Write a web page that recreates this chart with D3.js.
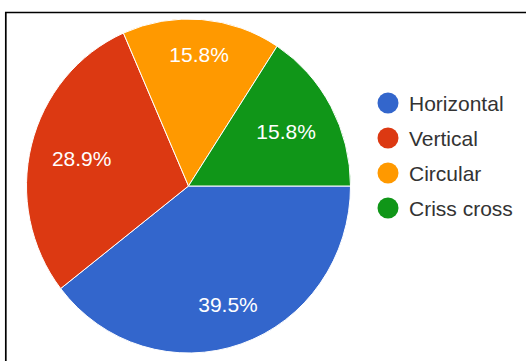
<!DOCTYPE html>
<html>
<head>
<meta charset="utf-8">
<script src="https://cdn.jsdelivr.net/npm/d3@7"></script>
<style>
  html, body { margin: 0; padding: 0; background: #fff; }
  svg { display: block; }
  text { font-family: "Liberation Sans", Arial, sans-serif; }
</style>
</head>
<body>
<svg id="chart" width="526" height="361"></svg>
<script>
// Survey answers: stroke direction used
const categories = ["Horizontal", "Vertical", "Circular", "Criss cross"];
const counts = [15, 11, 6, 6];
const colors = ["#3366cc", "#dc3912", "#ff9900", "#109618"];

const svg = d3.select("#chart");
const W = 526, H = 361;

// frame lines along top and left
svg.append("path")
  .attr("d", `M5.8,${H} V12.5 H${W}`)
  .attr("fill", "none")
  .attr("stroke", "#000")
  .attr("stroke-width", 1.7);

const cx = 188.5, cy = 186;
const rx = 162, ry = 167;
const ky = ry / rx;

const total = d3.sum(counts);
const pie = d3.pie()
  .sort(null)
  .startAngle(Math.PI / 2)
  .endAngle(Math.PI / 2 + 2 * Math.PI);
const arcs = pie(counts);

const arc = d3.arc().innerRadius(0).outerRadius(rx);

const g = svg.append("g")
  .attr("transform", `translate(${cx},${cy}) scale(1,${ky})`);

g.selectAll("path.slice")
  .data(arcs)
  .join("path")
  .attr("class", "slice")
  .attr("d", arc)
  .attr("fill", (d, i) => colors[i])
  .attr("stroke", "#fff")
  .attr("stroke-width", 1)
  .attr("vector-effect", "non-scaling-stroke");

// percentage labels: text box pushed out along the mid-angle until
// its outermost corner sits at a fixed fraction of the radius
const fs = 21;
const fmt = d3.format(".1f");
const farR = 0.87 * rx;
const labels = svg.append("g").attr("transform", `translate(${cx},${cy})`);

arcs.forEach((d, i) => {
  const t = labels.append("text")
    .attr("fill", "#fff")
    .attr("font-size", fs)
    .attr("text-anchor", "middle")
    .text(fmt(d.value / total * 100) + "%");
  const hw = t.node().getComputedTextLength() / 2;
  const hh = fs * 0.36;
  const a = (d.startAngle + d.endAngle) / 2;
  const s = Math.sin(a), c = -Math.cos(a);
  const ox = Math.sign(s) * hw, oy = Math.sign(c) * hh;
  // solve |(d*s + ox, d*c + oy)| = farR
  const B = 2 * (s * ox + c * oy);
  const C = ox * ox + oy * oy - farR * farR;
  const dist = (-B + Math.sqrt(B * B - 4 * C)) / 2;
  const x = dist * s, y = dist * c * ky;
  t.attr("x", x).attr("y", y + hh);
});

// legend
const legend = svg.append("g");
const ly = d3.scalePoint().domain(categories).range([103, 208]);
categories.forEach((name, i) => {
  legend.append("circle")
    .attr("cx", 388)
    .attr("cy", ly(name))
    .attr("r", 10.5)
    .attr("fill", colors[i]);
  legend.append("text")
    .attr("x", 409)
    .attr("y", ly(name) + 7.5)
    .attr("font-size", 21)
    .attr("fill", "#333")
    .text(name);
});
</script>
</body>
</html>
